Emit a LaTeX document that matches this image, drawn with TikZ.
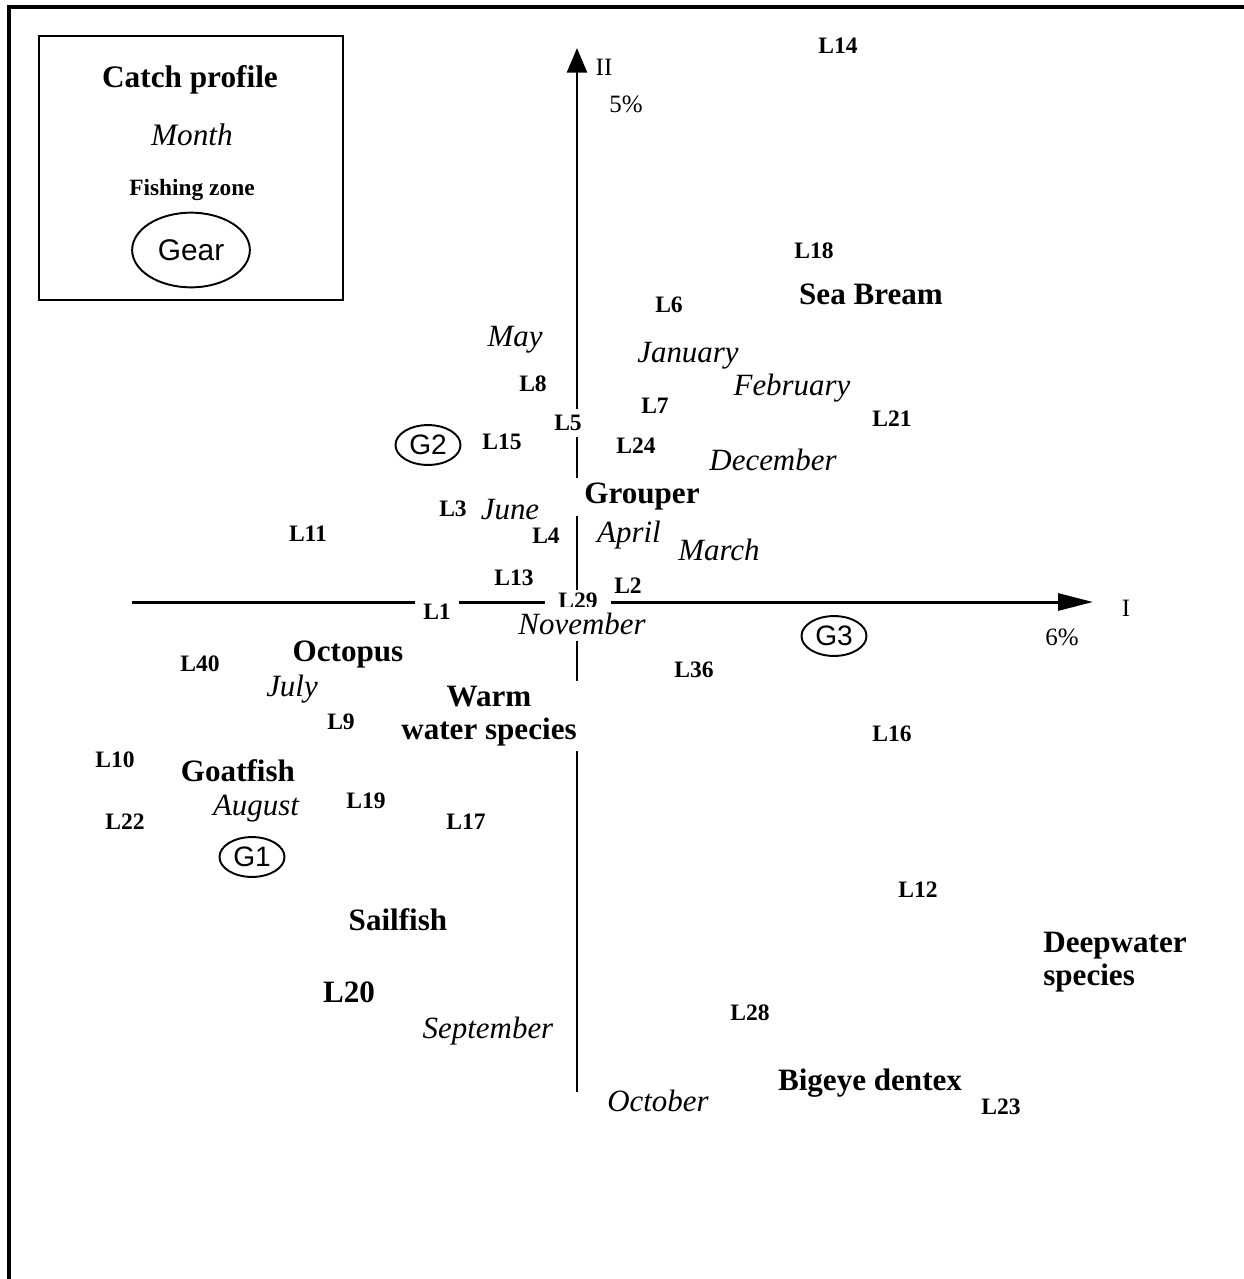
\documentclass[tikz,border=0pt]{standalone}
\usepackage{fontspec}
\setmainfont{Liberation Serif}
\newfontfamily\arialf{Liberation Sans}
\usetikzlibrary{arrows.meta,shapes.geometric}

\begin{document}
\begin{tikzpicture}[x=0.02cm, y=-0.02cm,
  base/.style={fill=white, inner xsep=4.5pt, inner ysep=2pt},
  lbl/.style={base, font=\fontsize{13.4}{15}\selectfont\bfseries},
  spc/.style={base, font=\fontsize{17.7}{18.5}\selectfont\bfseries, align=center},
  mon/.style={base, font=\fontsize{17.6}{20}\selectfont\itshape},
  gear/.style={draw, ellipse, line width=1.1pt, inner sep=0pt,
    font=\arialf\fontsize{16}{18}\selectfont,
    minimum width=37pt, minimum height=22.7pt},
  axl/.style={inner sep=0pt, font=\fontsize{14.2}{16}\selectfont},
  axis/.style={line width=1.7pt}
]
\useasboundingbox (0,0) rectangle (1244,1279);

% outer frame
\draw[line width=2.3pt] (9,1279) -- (9,7) -- (1244,7);

% legend
\draw[line width=1.4pt] (39,36) rectangle (343,300);
\node[font=\fontsize{17.8}{20}\selectfont\bfseries] (lgTitle) at (190,80) {Catch profile};
\node[font=\fontsize{17.8}{20}\selectfont\itshape] (lgMonth) at (192,135) {Month};
\node[font=\fontsize{13.3}{15}\selectfont\bfseries] (lgZone) at (192,190) {Fishing zone};
\node[draw, ellipse, line width=1.1pt, inner sep=0pt, minimum width=67pt, minimum height=42.5pt,
      font=\arialf\fontsize{17}{19}\selectfont] (lgGear) at (191,250) {Gear};

% axes
\coordinate (xl) at (132,602);
\coordinate (xr) at (1093,602);
\coordinate (yb) at (577,1092);
\coordinate (yt) at (577,48);
\draw[axis, -{Triangle[length=19.8pt,width=9.6pt]}] (xl) -- (xr);
\draw[axis, -{Triangle[length=14pt,width=11.3pt]}] (yb) -- (yt);
\node[axl] (axI) at (1126,608) {I};
\node[axl] (axII) at (604,67) {II};
\node[axl] (pctII) at (626,104) {5\%};
\node[axl] (pctI) at (1062,637) {6\%};

% fishing zones
\node[lbl] (L14) at (838,46) {L14};
\node[lbl] (L18) at (814,251) {L18};
\node[lbl] (L6) at (669,305) {L6};
\node[lbl] (L8) at (533,384) {L8};
\node[lbl] (L7) at (655,406) {L7};
\node[lbl, inner ysep=3.5pt] (L5) at (568,423) {L5};
\node[lbl] (L21) at (892,419) {L21};
\node[lbl] (L15) at (502,442) {L15};
\node[lbl] (L24) at (636,446) {L24};
\node[lbl] (L3) at (453,509) {L3};
\node[lbl] (L11) at (308,534) {L11};
\node[lbl] (L4) at (546,536) {L4};
\node[lbl] (L13) at (514,578) {L13};
\node[lbl, inner xsep=7.5pt] (L29) at (578,601) {L29};
\node[lbl] (L2) at (628,586) {L2};
\node[lbl] (L1) at (437,612) {L1};
\node[lbl] (L40) at (200,664) {L40};
\node[lbl] (L36) at (694,670) {L36};
\node[lbl] (L9) at (341,722) {L9};
\node[lbl] (L16) at (892,734) {L16};
\node[lbl] (L10) at (115,760) {L10};
\node[lbl] (L19) at (366,801) {L19};
\node[lbl] (L22) at (125,822) {L22};
\node[lbl] (L17) at (466,822) {L17};
\node[lbl] (L12) at (918,890) {L12};
\node[lbl] (L28) at (750,1013) {L28};
\node[lbl] (L23) at (1001,1107) {L23};
\node[spc] (L20) at (349,992) {L20};

% catch profiles
\node[spc] (seabream) at (871,294) {Sea Bream};
\node[spc, inner xsep=5pt, inner ysep=3pt] (grouper) at (642,497) {Grouper};
\node[spc] (octopus) at (348,655) {Octopus};
\node[spc, inner ysep=3pt] (warm) at (489,716) {Warm\\water species};
\node[spc] (goatfish) at (238,771) {Goatfish};
\node[spc] (sailfish) at (398,920) {Sailfish};
\node[spc, align=left] (deep) at (1115,962) {Deepwater\\species};
\node[spc] (bigeye) at (870,1083) {Bigeye dentex};

% months
\node[mon] (may) at (515,340) {May};
\node[mon] (jan) at (688,356) {January};
\node[mon] (feb) at (792,388) {February};
\node[mon] (dec) at (773,460) {December};
\node[mon] (jun) at (510,510) {June};
\node[mon] (apr) at (629,535) {April};
\node[mon] (mar) at (719,550) {March};
\node[mon, inner ysep=3.5pt] (nov) at (582,624) {November};
\node[mon] (jul) at (292,689) {July};
\node[mon] (aug) at (256,809) {August};
\node[mon] (sep) at (488,1031) {September};
\node[mon] (oct) at (658,1101) {October};

% gears
\node[gear] (G2) at (428,445) {G2};
\node[gear] (G1) at (252,857) {G1};
\node[gear] (G3) at (834,636) {G3};
\end{tikzpicture}
\end{document}
